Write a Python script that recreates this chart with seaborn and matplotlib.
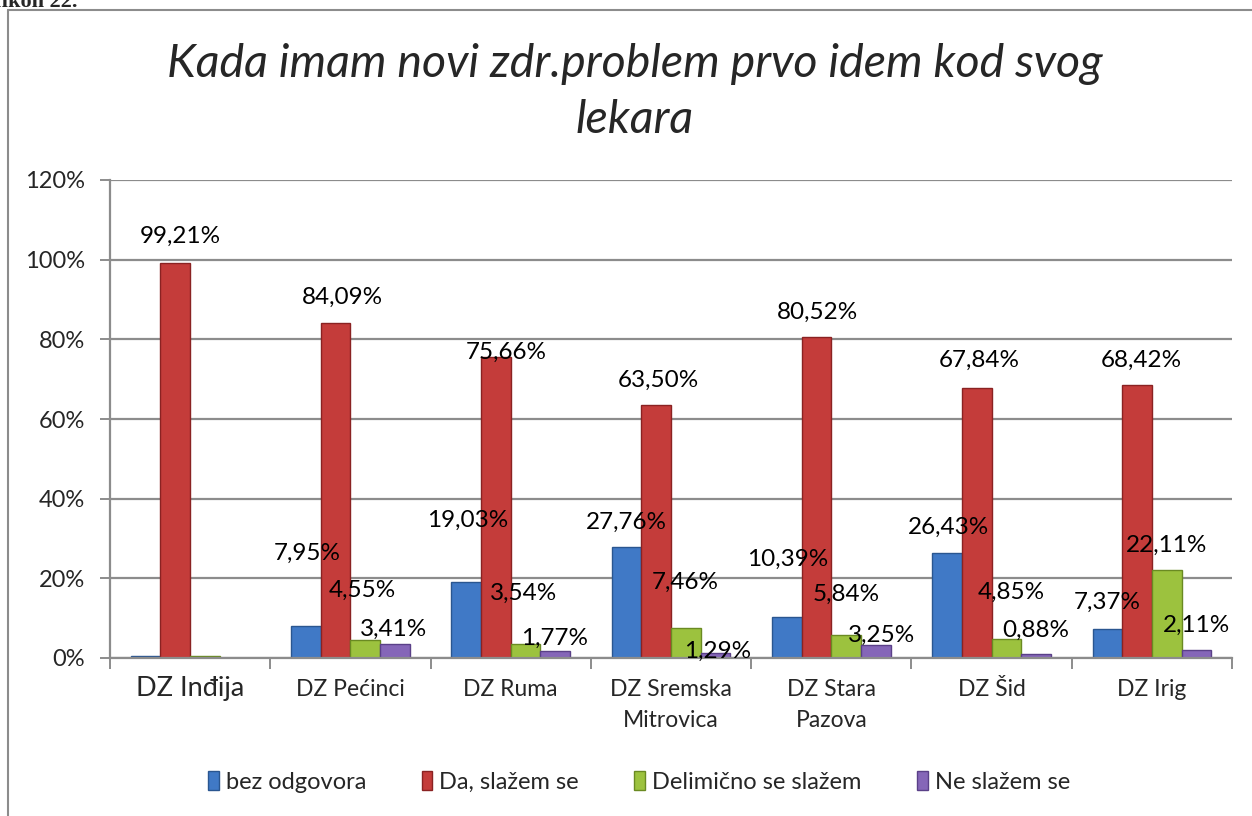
import matplotlib
matplotlib.use("Agg")
import matplotlib.pyplot as plt
import seaborn as sns
import pandas as pd
from matplotlib.patches import Patch
from matplotlib.lines import Line2D

# ---------------- data ----------------
categories = ["DZ Inđija", "DZ Pećinci", "DZ Ruma", "DZ Sremska\nMitrovica",
              "DZ Stara\nPazova", "DZ Šid", "DZ Irig"]
series = ["bez odgovora", "Da, slažem se", "Delimično se slažem", "Ne slažem se"]
bez_odgovora = [0.39, 7.95, 19.03, 27.76, 10.39, 26.43, 7.37]
da_slazem = [99.21, 84.09, 75.66, 63.50, 80.52, 67.84, 68.42]
delimicno = [0.40, 4.55, 3.54, 7.46, 5.84, 4.85, 22.11]
ne_slazem = [0.00, 3.41, 1.77, 1.29, 3.25, 0.88, 2.11]
# which value labels are shown in the original
show_bez = [False, True, True, True, True, True, True]
show_da = [True] * 7
show_del = [False, True, True, True, True, True, True]
show_ne = [False, True, True, True, True, True, True]
yticks = [0, 20, 40, 60, 80, 100, 120]
title = "Kada imam novi zdr.problem prvo idem kod svog\nlekara"

# label offsets (pixels, dx right / dy up) from bar top centre
off_bez = [(0, 0), (1, 73), (1, 62), (0, 25), (1, 57), (1, 25), (0, 26)]
off_da = [(5, 26), (7, 26), (10, 4), (2, 25), (1, 25), (3, 27), (4, 25)]
off_del = [(0, 0), (-3, 50), (-2, 51), (-1, 46), (0, 40), (5, 46), (0, 25)]
off_ne = [(0, 0), (-1, 15), (-1, 13), (2, 2), (6, 10), (0, 24), (0, 24)]

colors = ["#4079C6", "#C43C3A", "#9CC23E", "#8566B8"]
edges = ["#2A5690", "#8A2222", "#6A8A22", "#5A4088"]

values = [bez_odgovora, da_slazem, delimicno, ne_slazem]
rows = []
for s, vals in zip(series, values):
    for c, v in zip(categories, vals):
        rows.append({"cat": c, "series": s, "val": v})
df = pd.DataFrame(rows)

# ---------------- figure ----------------
sns.set_theme(style="white")
plt.rcParams["font.family"] = ["Lato", "DejaVu Sans"]

fig = plt.figure(figsize=(12.52, 8.16), dpi=100)
W, H = 1252, 816
ax = fig.add_axes([110 / W, 1 - 658 / H, (1232 - 110) / W, (658 - 180) / H])

sns.barplot(data=df, x="cat", y="val", hue="series", order=categories,
            hue_order=series, palette=colors, width=0.74, ax=ax,
            legend=False, errorbar=None, saturation=1, linewidth=1.0)

for cont, ec in zip(ax.containers, edges):
    for b in cont:
        b.set_edgecolor(ec)

ax.set_ylim(0, 120)
ax.set_xlim(-0.5, len(categories) - 0.5)
ax.set_yticks(yticks)
ax.set_yticklabels([f"{t}%" for t in yticks], fontsize=17)
ax.yaxis.grid(True, color="#8C8C8C", linewidth=1.6)
ax.set_axisbelow(True)
ax.set_xlabel("")
ax.set_ylabel("")

for sp in ["top", "right"]:
    ax.spines[sp].set_visible(False)
for sp in ["left", "bottom"]:
    ax.spines[sp].set_color("#8C8C8C")
    ax.spines[sp].set_linewidth(1.6)

ax.tick_params(axis="y", which="major", length=7, width=1.4, color="#8C8C8C",
               pad=11, left=True)
# category boundary ticks (major) and labels on minor ticks
ax.set_xticks([i - 0.5 for i in range(len(categories) + 1)])
ax.set_xticklabels([""] * (len(categories) + 1))
ax.set_xticks(range(len(categories)), minor=True)
ax.set_xticklabels(categories, minor=True, fontsize=16.5, linespacing=1.6)
ax.tick_params(axis="x", which="major", length=8, width=1.4, color="#8C8C8C",
               bottom=True, direction="out")
ax.tick_params(axis="x", which="minor", length=0, pad=15)
for lab in ax.get_xticklabels(minor=True):
    if lab.get_text() == "DZ Inđija":
        lab.set_fontsize(19.5)
        lab.set_y(0.006)

# value labels
shows = [show_bez, show_da, show_del, show_ne]
offs = [off_bez, off_da, off_del, off_ne]
for cont, vals, show, off in zip(ax.containers, values, shows, offs):
    for b, v, sh, (dx, dy) in zip(cont, vals, show, off):
        if not sh:
            continue
        xc = b.get_x() + b.get_width() / 2
        ax.annotate(f"{v:.2f}".replace(".", ",") + "%", (xc, b.get_height()),
                    xytext=(dx, dy), textcoords="offset pixels",
                    ha="center", va="center", fontsize=17.5, color="black",
                    annotation_clip=False)

# title
fig.text(635 / W, 1 - 92 / H, title, ha="center", va="center",
         fontsize=33.5, style="italic", linespacing=1.42)

# legend
handles = [Patch(facecolor=c, edgecolor=e) for c, e in zip(colors, edges)]
fig.legend(handles, series, loc="center", bbox_to_anchor=(639 / W, 1 - 782 / H),
           ncol=4, frameon=False, fontsize=17, handlelength=0.45,
           handleheight=0.85, handletextpad=0.3, columnspacing=2.35)

# outer frame
fig.add_artist(Line2D([8 / W, 8 / W], [0, 1 - 10 / H], transform=fig.transFigure,
                      color="#8C8C8C", linewidth=1.5))
fig.add_artist(Line2D([8 / W, 1], [1 - 10 / H, 1 - 10 / H], transform=fig.transFigure,
                      color="#8C8C8C", linewidth=1.5))

# cut-off caption at top-left (partly outside the page, as in the original)
fig.text(78 / W, 1 - 7 / H, "Grafikon 22.", ha="right", va="baseline",
         fontsize=16, fontweight="bold", family=["Liberation Serif", "DejaVu Serif"])

fig.savefig("out.png", dpi=100)
